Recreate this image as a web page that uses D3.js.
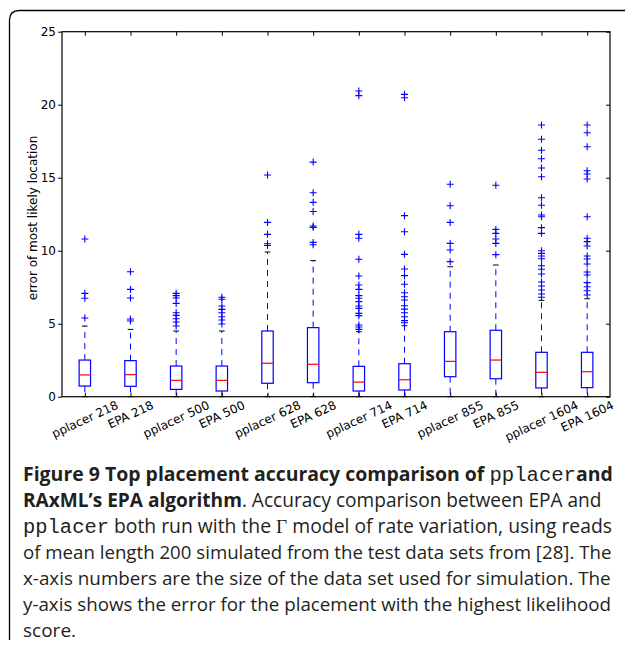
<!DOCTYPE html>
<html>
<head>
<meta charset="utf-8">
<script src="https://cdn.jsdelivr.net/npm/d3@7"></script>
<style>
  html, body { margin: 0; padding: 0; background: #fff; }
  svg { display: block; }
</style>
</head>
<body>
<svg id="chart" width="625" height="646"></svg>
<script>
// ---------------- DATA ----------------
const categories = ["pplacer 218", "EPA 218", "pplacer 500", "EPA 500", "pplacer 628", "EPA 628",
                    "pplacer 714", "EPA 714", "pplacer 855", "EPA 855", "pplacer 1604", "EPA 1604"];
const q1       = [0.73, 0.71, 0.50, 0.39, 0.92, 0.96, 0.39, 0.46, 1.37, 1.23, 0.60, 0.62];
const medians  = [1.49, 1.51, 1.12, 1.12, 2.29, 2.22, 1.00, 1.16, 2.42, 2.51, 1.67, 1.71];
const q3       = [2.51, 2.47, 2.10, 2.10, 4.50, 4.73, 2.08, 2.26, 4.45, 4.55, 3.04, 3.04];
const whiskLow = [0, 0, 0, 0, 0, 0, 0, 0, 0, 0, 0, 0];
const whiskHigh= [4.84, 4.61, 4.50, 4.50, 9.91, 9.32, 4.45, 4.86, 8.90, 9.02, 6.60, 6.71];
const outliers = [
  [10.8, 7.08, 6.74, 5.39],
  [8.56, 7.35, 6.76, 5.32, 5.18],
  [7.08, 6.92, 6.76, 6.39, 5.75, 5.57, 5.34, 5.12, 4.84],
  [6.81, 6.67, 6.21, 5.98, 5.75, 5.48, 5.25, 4.98],
  [15.18, 11.94, 11.12, 10.48, 10.36],
  [16.07, 13.97, 13.31, 12.69, 11.69, 11.6, 10.57, 10.41],
  [20.94, 20.62, 11.12, 10.85, 9.41, 8.27, 7.65, 7.35, 6.92, 6.74, 6.51, 6.21, 6.05, 5.71, 5.55, 4.91, 4.77, 4.61],
  [20.71, 20.48, 12.4, 11.3, 9.75, 8.75, 8.29, 7.7, 7.12, 6.85, 6.62, 6.23, 6.0, 5.75, 5.48, 5.21, 5.07],
  [14.55, 13.08, 11.94, 10.5, 10.05, 9.25],
  [14.48, 11.46, 11.19, 10.8, 10.5, 9.73],
  [18.61, 17.63, 16.88, 16.3, 15.66, 15.07, 13.63, 13.11, 12.45, 12.33, 11.58, 11.19, 10.0, 9.82, 9.64, 9.45,
   8.97, 8.73, 8.4, 7.86, 7.58, 7.31, 7.03, 6.81],
  [18.61, 18.08, 17.12, 15.48, 15.25, 14.91, 12.33, 10.85, 10.62, 10.32, 9.64, 9.43, 9.09, 8.54, 8.34,
   7.81, 7.53, 7.26, 6.97]
];
const yTicks = [0, 5, 10, 15, 20, 25];
const yLabel = "error of most likely location";

// caption lines: segments with style keys
const captionLines = [
  [["b", "Figure 9 Top placement accuracy comparison of "], ["m", "pplacer"], ["b", "and"]],
  [["b", "RAxML\u2019s EPA algorithm"], ["n", ". Accuracy comparison between EPA and"]],
  [["m", "pplacer"], ["n", " both run with the "], ["s", "\u0393"], ["n", " model of rate variation, using reads"]],
  [["n", "of mean length 200 simulated from the test data sets from [28]. The"]],
  [["n", "x-axis numbers are the size of the data set used for simulation. The"]],
  [["n", "y-axis shows the error for the placement with the highest likelihood"]],
  [["n", "score."]]
];

// ---------------- LAYOUT ----------------
const svg = d3.select("#chart");
const plot = { left: 62, right: 610, top: 31.7, bottom: 396.7 };

const x = d3.scaleLinear().domain([0.5, categories.length + 0.5]).range([plot.left, plot.right]);
const y = d3.scaleLinear().domain([0, 25]).range([plot.bottom, plot.top]);
const boxW = x(1.25) - x(1);     // 0.5 units
const capW = x(1.125) - x(1);    // 0.25 units

// outer panel border with rounded top-left corner
svg.append("path")
  .attr("d", "M9.5,640 L9.5,20 Q9.5,10.5 19.5,10.5 L625,10.5")
  .attr("fill", "none").attr("stroke", "#000").attr("stroke-width", 1.3);

const g = svg.append("g");
const idx = categories.map((c, i) => i);

// whiskers (dashed)
g.selectAll("line.wh-up").data(idx).join("line")
  .attr("x1", i => x(i + 1)).attr("x2", i => x(i + 1))
  .attr("y1", i => y(q3[i])).attr("y2", i => y(whiskHigh[i]))
  .attr("stroke", "#0000ff").attr("stroke-width", 1).attr("stroke-dasharray", "6,5");
g.selectAll("line.wh-lo").data(idx).join("line")
  .attr("x1", i => x(i + 1)).attr("x2", i => x(i + 1))
  .attr("y1", i => y(q1[i])).attr("y2", i => y(whiskLow[i]))
  .attr("stroke", "#0000ff").attr("stroke-width", 1).attr("stroke-dasharray", "6,5");

// caps
g.selectAll("line.cap-up").data(idx).join("line")
  .attr("x1", i => x(i + 1) - capW / 2).attr("x2", i => x(i + 1) + capW / 2)
  .attr("y1", i => y(whiskHigh[i])).attr("y2", i => y(whiskHigh[i]))
  .attr("stroke", "#000").attr("stroke-width", 1);
g.selectAll("line.cap-lo").data(idx).join("line")
  .attr("x1", i => x(i + 1) - capW / 2).attr("x2", i => x(i + 1) + capW / 2)
  .attr("y1", i => y(whiskLow[i])).attr("y2", i => y(whiskLow[i]))
  .attr("stroke", "#000").attr("stroke-width", 1);

// boxes
g.selectAll("rect.box").data(idx).join("rect")
  .attr("x", i => x(i + 1) - boxW / 2).attr("width", boxW)
  .attr("y", i => y(q3[i])).attr("height", i => y(q1[i]) - y(q3[i]))
  .attr("fill", "none").attr("stroke", "#0000ff").attr("stroke-width", 1.2);

// medians
g.selectAll("line.med").data(idx).join("line")
  .attr("x1", i => x(i + 1) - boxW / 2).attr("x2", i => x(i + 1) + boxW / 2)
  .attr("y1", i => y(medians[i])).attr("y2", i => y(medians[i]))
  .attr("stroke", "#ff0000").attr("stroke-width", 1.2);

// fliers as "+"
const fl = [];
outliers.forEach((arr, i) => arr.forEach(v => fl.push({ i, v })));
const ms = 3.5;
g.selectAll("path.flier").data(fl).join("path")
  .attr("d", d => {
    const cx = x(d.i + 1), cy = y(d.v);
    return `M${cx - ms},${cy}H${cx + ms}M${cx},${cy - ms}V${cy + ms}`;
  })
  .attr("stroke", "#0000ff").attr("stroke-width", 1.1).attr("fill", "none");

// axes frame
svg.append("rect")
  .attr("x", plot.left).attr("y", plot.top)
  .attr("width", plot.right - plot.left).attr("height", plot.bottom - plot.top)
  .attr("fill", "none").attr("stroke", "#000").attr("stroke-width", 1.2);

// left axis (outward ticks with labels)
const leftAxis = svg.append("g").attr("transform", `translate(${plot.left},0)`)
  .call(d3.axisLeft(y).tickValues(yTicks).tickSize(4).tickPadding(2).tickFormat(d3.format("d")));
leftAxis.select(".domain").remove();
leftAxis.selectAll("text").attr("font-family", "DejaVu Sans").attr("font-size", 12).attr("fill", "#000");

// right axis (inward ticks)
const rightAxis = svg.append("g").attr("transform", `translate(${plot.right},0)`)
  .call(d3.axisRight(y).tickValues(yTicks).tickSize(-4).tickFormat(""));
rightAxis.select(".domain").remove();

// top axis (inward ticks)
const topAxis = svg.append("g").attr("transform", `translate(0,${plot.top})`)
  .call(d3.axisTop(x).tickValues(idx.map(i => i + 1)).tickSize(-4).tickFormat(""));
topAxis.select(".domain").remove();

// bottom axis (inward ticks), labels rotated
const botAxis = svg.append("g").attr("transform", `translate(0,${plot.bottom})`)
  .call(d3.axisBottom(x).tickValues(idx.map(i => i + 1)).tickSize(-4).tickFormat(""));
botAxis.select(".domain").remove();

const ang = 25 * Math.PI / 180;
const labTop = 400;
const lg = svg.append("g");
idx.forEach(i => {
  const t = lg.append("text")
    .attr("font-family", "DejaVu Sans").attr("font-size", 12).attr("fill", "#000")
    .attr("text-anchor", "middle").attr("dy", "0.36em")
    .text(categories[i]);
  const L = t.node().getComputedTextLength();
  const h = 9;
  const halfH = (L / 2) * Math.sin(ang) + (h / 2) * Math.cos(ang);
  t.attr("transform", `translate(${x(i + 1)},${labTop + halfH}) rotate(-25)`);
});

// y label
svg.append("text")
  .attr("transform", "translate(37,218) rotate(-90)")
  .attr("text-anchor", "middle")
  .attr("font-family", "DejaVu Sans").attr("font-size", 12).attr("fill", "#000")
  .text(yLabel);

// ---------------- CAPTION ----------------
const fontMap = {
  b: { family: "'Open Sans', sans-serif", weight: "bold" },
  n: { family: "'Open Sans', sans-serif", weight: "normal" },
  m: { family: "'Liberation Mono', monospace", weight: "normal" },
  s: { family: "'Liberation Serif', serif", weight: "normal" }
};
const capX = 23;
const capBase = [481, 507, 533, 559, 585, 611, 637];
const capRight = [613, 602, 612, 612, 611, 611, null];
const baseSize = 16;
let scales = [];
captionLines.forEach((segs, li) => {
  const t = svg.append("text")
    .attr("x", capX).attr("y", capBase[li])
    .attr("font-size", baseSize).attr("fill", "#231f20")
    .style("white-space", "pre");
  segs.forEach(([k, s]) => {
    t.append("tspan")
      .attr("font-family", fontMap[k].family)
      .attr("font-weight", fontMap[k].weight)
      .attr("font-size", k === "m" ? baseSize * 1.06 : baseSize)
      .attr("data-k", k)
      .text(s);
  });
  if (capRight[li] !== null) {
    const w = t.node().getBBox().width;
    const sc = (capRight[li] - capX) / w;
    scales.push(sc);
    t.selectAll("tspan").attr("font-size", function () {
      return +d3.select(this).attr("font-size") * sc;
    });
  } else {
    const sc = d3.mean(scales);
    t.selectAll("tspan").attr("font-size", function () {
      return +d3.select(this).attr("font-size") * sc;
    });
  }
});
</script>
</body>
</html>
